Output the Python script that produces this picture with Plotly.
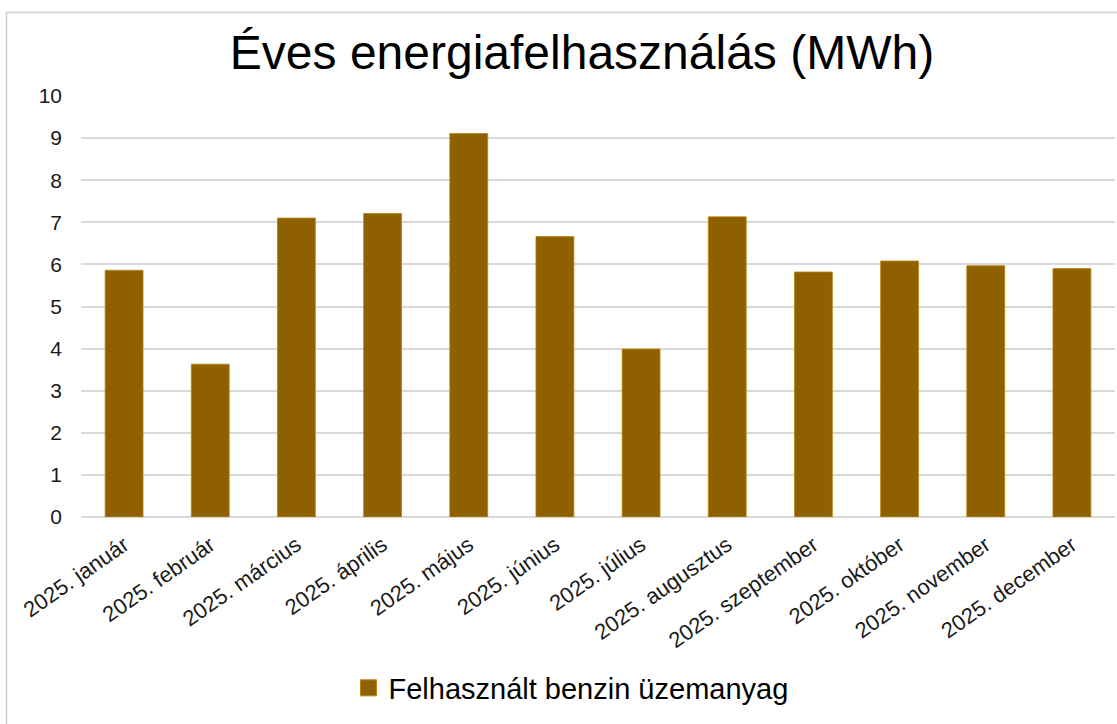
import plotly.graph_objects as go

months = ["2025. január", "2025. február", "2025. március", "2025. április",
          "2025. május", "2025. június", "2025. július", "2025. augusztus",
          "2025. szeptember", "2025. október", "2025. november", "2025. december"]
values = [5.86, 3.63, 7.10, 7.21, 9.11, 6.66, 3.99, 7.13, 5.82, 6.08, 5.97, 5.90]
series_name = "Felhasznált benzin üzemanyag"
title_text = "Éves energiafelhasználás (MWh)"
y_ticks = list(range(0, 11))

FONT = "Arial, Liberation Sans, sans-serif"
BAR = "#8F6000"
GRID = "#D9D9D9"

W, H = 1117, 724
L, T = 81, 96
PR, PB = 1115, 517  # plot right/bottom in figure px
R = W - PR
B = H - PB
pw = PR - L
ph = PB - T

fig = go.Figure()
fig.add_trace(go.Bar(
    x=months, y=values, name=series_name,
    marker=dict(color=BAR, line=dict(color="#B8860B", width=0.8)),
    showlegend=False,
))
# legend entry with a larger square swatch (no data points)
fig.add_trace(go.Scatter(
    x=[None], y=[None], mode="markers", name=series_name,
    marker=dict(symbol="square", size=16, color=BAR,
                line=dict(color="#B8860B", width=1)),
    showlegend=True, hoverinfo="skip",
))

fig.update_layout(
    width=W, height=H,
    margin=dict(l=L, r=R, t=T, b=B, pad=0, autoexpand=False),
    paper_bgcolor="white", plot_bgcolor="white",
    bargap=0.56,
    font=dict(family=FONT, color="#000000"),
    title=dict(text=title_text, x=582 / W, xanchor="center",
               y=1 - 52 / H, yanchor="middle", yref="container",
               font=dict(family=FONT, size=48, color="#000000")),
    legend=dict(orientation="h", x=(571 - L) / pw, xanchor="center",
                y=1 - 688 / H, yanchor="middle", yref="container",
                font=dict(family=FONT, size=29, color="#000000"),
                itemsizing="trace", itemwidth=30),
    xaxis=dict(tickangle=-35, tickfont=dict(family=FONT, size=22, color="#1a1a1a"),
               showgrid=False, showline=False, ticks="", ticklabelstandoff=10,
               automargin=False),
    yaxis=dict(range=[0, 10], tickvals=y_ticks, showgrid=True, gridcolor=GRID,
               gridwidth=2, zeroline=True, zerolinecolor=GRID, zerolinewidth=2,
               showline=False, ticks="", ticklabelstandoff=18, automargin=False,
               tickfont=dict(family=FONT, size=21, color="#1a1a1a")),
    shapes=[dict(type="rect", xref="paper", yref="paper",
                 x0=(6.5 - L) / pw, x1=1.2, y0=-1.0, y1=(PB - 12.5) / ph,
                 line=dict(color="#D0D0D0", width=1.5), fillcolor="rgba(0,0,0,0)",
                 layer="below")],
)

fig.write_html("out.html", config={"displayModeBar": False},
               post_script="document.body.style.margin='0';document.body.style.overflow='hidden';")
